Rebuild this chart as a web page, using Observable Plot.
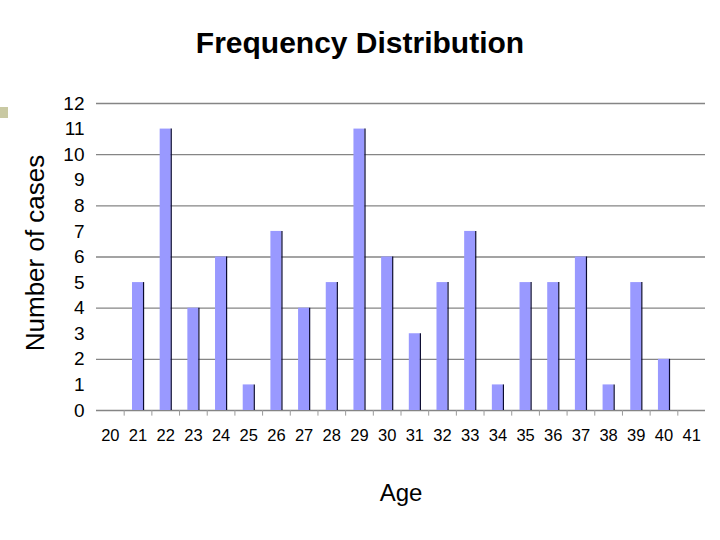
<!DOCTYPE html>
<html>
<head>
<meta charset="utf-8">
<script src="https://cdn.jsdelivr.net/npm/d3@7"></script>
<script src="https://cdn.jsdelivr.net/npm/@observablehq/plot@0.6"></script>
<style>
  html, body { margin: 0; padding: 0; background: #fff; }
  #wrap { position: relative; width: 720px; height: 540px; overflow: hidden; font-family: "Liberation Sans", Arial, sans-serif; }
  #title { box-sizing: border-box; height: 80px; padding-top: 28px; line-height: 30px; font-size: 30px; font-weight: bold; text-align: center; color: #000; }
  #bullet { position: absolute; left: 0; top: 107px; width: 8px; height: 11px; background: #c9c9a3; }
  #ylabel { position: absolute; left: 35px; top: 253px; transform: translate(-50%, -50%) rotate(-90deg); font-size: 26px; line-height: 26px; white-space: nowrap; color: #000; }
  #chart svg { overflow: visible; }
</style>
</head>
<body>
<div id="wrap">
  <div id="title">Frequency Distribution</div>
  <div id="bullet"></div>
  <div id="chart"></div>
  <div id="ylabel"></div>
</div>
<script>
const ages =   [20, 21, 22, 23, 24, 25, 26, 27, 28, 29, 30, 31, 32, 33, 34, 35, 36, 37, 38, 39, 40, 41];
const counts = [ 0,  5, 11,  4,  6,  1,  7,  4,  5, 11,  6,  3,  5,  7,  1,  5,  5,  6,  1,  5,  2,  0];
const yTicks = [0, 1, 2, 3, 4, 5, 6, 7, 8, 9, 10, 11, 12];
const gridValues = [0, 2, 4, 6, 8, 10, 12];
const xLabel = "Age";
const yLabel = "Number of cases";

document.getElementById("ylabel").textContent = yLabel;

const data = ages.map((a, i) => ({age: a, count: counts[i]})).filter(d => d.count > 0);
const halfBar = 0.2;
const boundaries = ages.slice(0, -1).map(a => a + 0.5);

const chart = Plot.plot({
  width: 720,
  height: 460,
  marginTop: 23,
  marginBottom: 130,
  marginLeft: 96,
  marginRight: 15,
  style: {fontFamily: "'Liberation Sans', Arial, sans-serif", background: "#fff", color: "#000", overflow: "visible"},
  x: {type: "linear", domain: [ages[0] - 0.5, ages[ages.length - 1] + 0.5]},
  y: {type: "linear", domain: [0, 12]},
  marks: [
    Plot.ruleY(gridValues, {stroke: "#858585", strokeWidth: 1.3}),
    Plot.ruleX(boundaries, {y1: 0, y2: -0.22, stroke: "#9a9a9a", strokeWidth: 1}),
    Plot.rectY(data, {x1: d => d.age - halfBar, x2: d => d.age + halfBar, y1: 0, y2: "count", fill: "#9999ff"}),
    Plot.ruleX(data, {x: d => d.age + halfBar, y1: 0, y2: "count", stroke: "#0a0a30", strokeWidth: 1.2}),
    Plot.axisY({ticks: yTicks, tickSize: 0, tickPadding: 12, fontSize: 19, label: null, tickFormat: d => String(d)}),
    Plot.axisX({ticks: ages, tickSize: 0, tickPadding: 19, fontSize: 16.5, label: null, tickFormat: d => String(d)}),
    Plot.text([xLabel], {frameAnchor: "bottom", dy: 90, fontSize: 24, fill: "#000"})
  ]
});
document.getElementById("chart").appendChild(chart);
</script>
</body>
</html>
